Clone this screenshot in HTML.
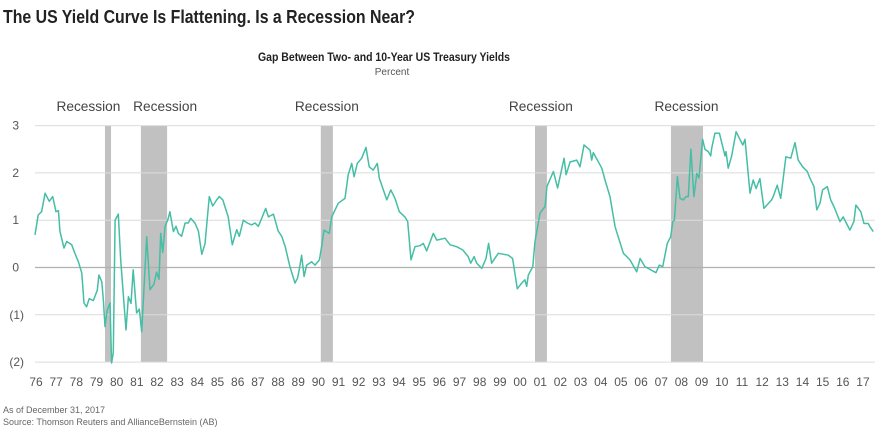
<!DOCTYPE html>
<html><head><meta charset="utf-8"><style>
body{margin:0;background:#fff;}
svg{display:block;font-family:"Liberation Sans",sans-serif;}
</style></head><body>
<svg id="chart" width="880" height="430" viewBox="0 0 880 430">
<text x="3" y="23" font-size="18" font-weight="bold" fill="#222" textLength="412" lengthAdjust="spacingAndGlyphs">The US Yield Curve Is Flattening. Is a Recession Near?</text>
<text x="258" y="61" font-size="12" font-weight="bold" fill="#222" textLength="252" lengthAdjust="spacingAndGlyphs">Gap Between Two- and 10-Year US Treasury Yields</text>
<text x="392" y="75" font-size="10" fill="#555" text-anchor="middle">Percent</text>
<g id="rec"></g><g id="grid"></g><g id="ylab"></g><g id="xlab"></g><g id="reclab"></g>
<path id="line" fill="none" stroke="#45bea5" stroke-width="1.5" stroke-linejoin="round"/>
<text x="3" y="413" font-size="9" fill="#666">As of December 31, 2017</text>
<text x="3" y="425" font-size="9" fill="#666">Source: Thomson Reuters and AllianceBernstein (AB)</text>
</svg>
<script>
const dates=[1976.45,1976.61,1976.78,1976.95,1977.16,1977.33,1977.49,1977.61,1977.69,1977.89,1978.02,1978.27,1978.43,1978.60,1978.77,1978.88,1979.01,1979.14,1979.34,1979.54,1979.62,1979.76,1979.84,1979.92,1980.03,1980.17,1980.25,1980.33,1980.42,1980.58,1980.70,1980.96,1981.08,1981.21,1981.32,1981.49,1981.62,1981.74,1981.99,1982.15,1982.35,1982.48,1982.60,1982.68,1982.78,1982.90,1983.06,1983.14,1983.31,1983.44,1983.56,1983.72,1983.89,1984.05,1984.17,1984.38,1984.55,1984.72,1984.88,1985.09,1985.26,1985.46,1985.59,1985.76,1986.03,1986.23,1986.45,1986.58,1986.78,1986.98,1987.19,1987.36,1987.52,1987.69,1987.89,1988.02,1988.27,1988.51,1988.68,1988.85,1989.09,1989.34,1989.47,1989.55,1989.67,1989.79,1989.92,1990.17,1990.33,1990.55,1990.66,1990.78,1991.04,1991.16,1991.49,1991.82,1991.98,1992.15,1992.27,1992.43,1992.65,1992.86,1993.02,1993.22,1993.42,1993.52,1993.89,1994.09,1994.30,1994.51,1994.79,1994.93,1995.09,1995.29,1995.54,1995.70,1995.87,1996.20,1996.37,1996.78,1997.03,1997.36,1997.66,1997.93,1998.05,1998.22,1998.35,1998.60,1998.81,1998.94,1999.09,1999.42,1999.92,2000.13,2000.36,2000.58,2000.74,2000.83,2000.91,2001.13,2001.24,2001.49,2001.74,2001.83,2002.15,2002.36,2002.68,2002.78,2002.98,2003.31,2003.47,2003.67,2003.97,2004.05,2004.13,2004.55,2004.71,2004.96,2005.21,2005.62,2005.95,2006.28,2006.45,2006.69,2007.24,2007.40,2007.57,2007.80,2007.97,2008.07,2008.15,2008.30,2008.43,2008.59,2008.73,2008.84,2008.97,2009.12,2009.26,2009.37,2009.55,2009.67,2009.83,2009.95,2010.00,2010.16,2010.38,2010.66,2010.71,2010.82,2010.99,2011.21,2011.40,2011.54,2011.65,2011.90,2012.06,2012.20,2012.39,2012.59,2012.97,2013.05,2013.25,2013.42,2013.68,2013.92,2014.13,2014.29,2014.51,2014.74,2014.87,2015.07,2015.21,2015.37,2015.50,2015.73,2015.90,2016.06,2016.36,2016.52,2016.85,2017.05,2017.15,2017.39,2017.55,2017.76,2017.85,2018.01];
const spread=[0.69,1.11,1.18,1.57,1.40,1.50,1.18,1.2,0.76,0.41,0.55,0.48,0.30,0.12,-0.12,-0.75,-0.83,-0.66,-0.70,-0.48,-0.16,-0.3,-0.70,-1.25,-0.9,-0.75,-2.02,-1.8,1.0,1.13,0.16,-1.32,-0.62,-0.76,-0.05,-0.96,-0.88,-1.36,0.65,-0.47,-0.35,-0.1,-0.25,0.72,0.32,0.87,1.04,1.18,0.76,0.87,0.72,0.66,0.94,0.94,1.04,0.94,0.77,0.28,0.5,1.50,1.3,1.43,1.50,1.43,1.07,0.48,0.8,0.66,1.0,0.94,0.9,0.94,0.87,1.04,1.25,1.07,1.13,0.77,0.66,0.45,0.02,-0.33,-0.22,-0.05,0.26,-0.19,0.05,0.12,0.05,0.16,0.44,0.79,0.72,1.07,1.36,1.46,1.96,2.20,1.92,2.20,2.31,2.54,2.13,2.06,2.20,1.89,1.43,1.64,1.46,1.18,1.07,0.97,0.16,0.44,0.46,0.51,0.35,0.72,0.58,0.62,0.48,0.44,0.37,0.23,0.09,0.23,0.09,-0.02,0.19,0.51,0.09,0.30,0.26,0.19,-0.45,-0.33,-0.26,-0.40,-0.16,0.02,0.55,1.15,1.29,1.71,2.03,1.68,2.31,1.96,2.23,2.27,2.13,2.59,2.48,2.27,2.43,2.10,1.85,1.50,0.86,0.30,0.16,-0.09,0.19,0.02,-0.11,0.05,0.02,0.51,0.65,0.97,1.00,1.92,1.46,1.43,1.50,1.50,2.50,1.50,1.99,1.89,2.71,2.50,2.45,2.36,2.52,2.84,2.84,2.36,2.45,2.10,2.36,2.87,2.71,2.59,2.71,1.57,1.85,1.67,1.88,1.25,1.43,1.50,1.74,1.46,2.34,2.31,2.64,2.27,2.13,2.03,1.89,1.71,1.22,1.36,1.64,1.71,1.43,1.29,0.97,1.07,0.79,0.97,1.32,1.18,0.93,0.93,0.86,0.76];
const recStart=[1979.92,1981.7,1990.62,2001.24,2007.98];
const recEnd=[1980.22,1983.0,1991.22,2001.83,2009.57];
const recLabelYear=[1979.1,1982.9,1990.92,2001.53,2008.75];
const yTicks=[3,2,1,0,-1,-2];
const yTickLabels=["3","2","1","0","(1)","(2)"];
const yearLabels=["76","77","78","79","80","81","82","83","84","85","86","87","88","89","90","91","92","93","94","95","96","97","98","99","00","01","02","03","04","05","06","07","08","09","10","11","12","13","14","15","16","17"];
const NS="http://www.w3.org/2000/svg";
const X=t=>36+(t-1976.5)*20.17;
const Y=v=>267.5-v*47.3;
const L=35,R=875;
function mk(tag,attrs,parent){const e=document.createElementNS(NS,tag);for(const k in attrs)e.setAttribute(k,attrs[k]);document.getElementById(parent).appendChild(e);return e;}
recStart.forEach((s,i)=>{
  const r=mk('rect',{x:X(s),y:Y(3),width:X(recEnd[i])-X(s),height:Y(-2)-Y(3),fill:'#c1c1c1'},'rec');
  
  
  const t=mk('text',{x:X(recLabelYear[i]),y:111,'font-size':14,fill:'#444','text-anchor':'middle',textLength:64,lengthAdjust:'spacingAndGlyphs'},'reclab');
  t.textContent='Recession';
  
  
});
yTicks.forEach((v,i)=>{
  const g=mk('line',{x1:L,x2:R,y1:Y(v),y2:Y(v),stroke:v===0?'#b0b0b0':'#dcdcdc','stroke-width':v===0?1.3:1},'grid');
  
  
  const t=mk('text',{x:v<0?24:19,y:Y(v)+4,'font-size':12,fill:'#555','text-anchor':'end'},'ylab');
  t.textContent=yTickLabels[i];
  
  
});
yearLabels.forEach((lab,i)=>{
  const t=mk('text',{x:X(1976.5+i),y:386,'font-size':12,fill:'#555','text-anchor':'middle'},'xlab');
  t.textContent=lab;
  
  
});
document.getElementById('line').setAttribute('d',dates.map((d,i)=>(i?'L':'M')+X(d).toFixed(1)+','+Y(spread[i]).toFixed(1)).join(''));
</script>
</body></html>
